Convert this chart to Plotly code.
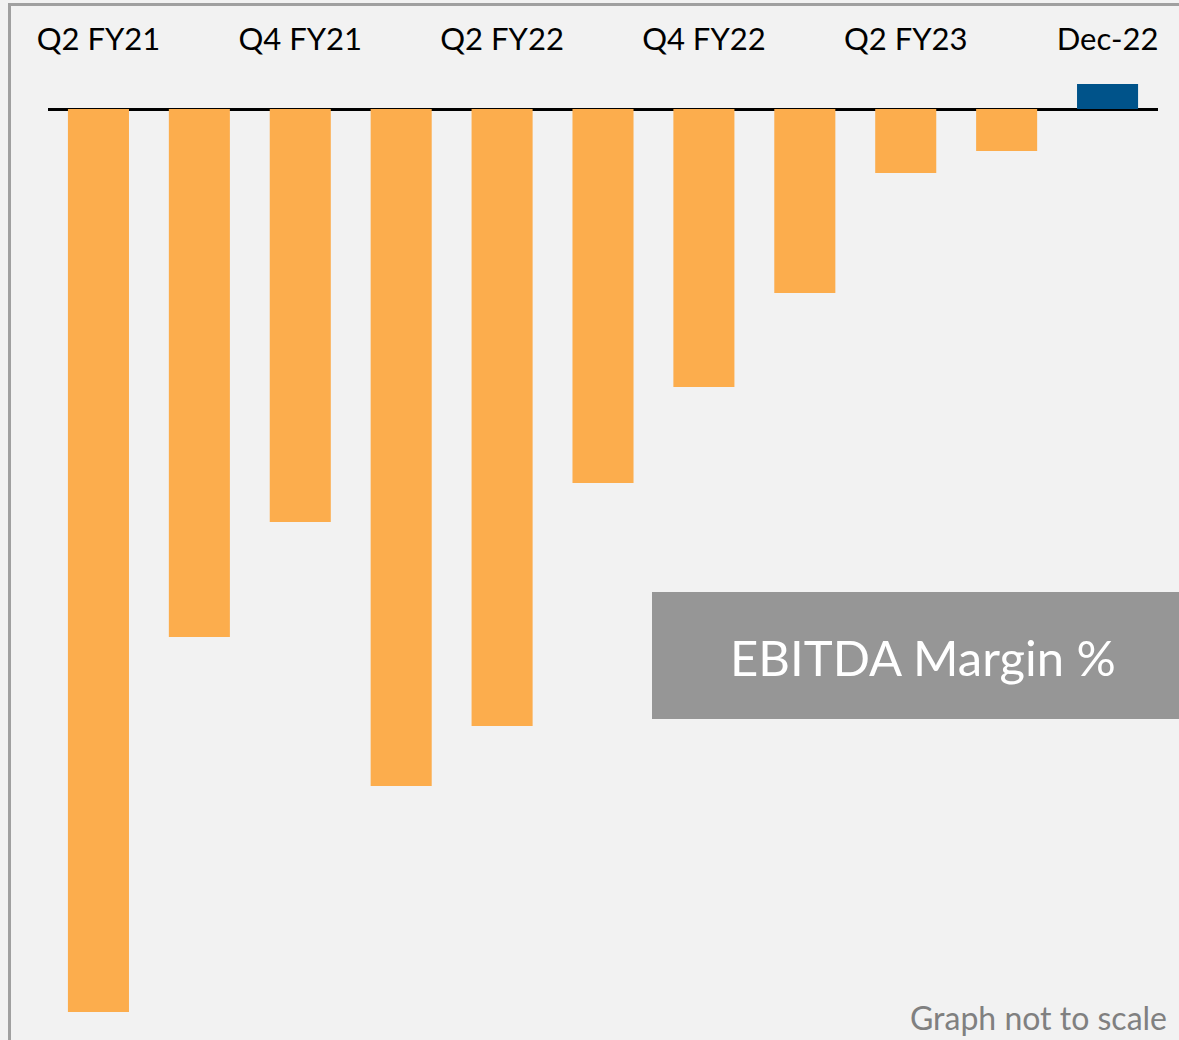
import plotly.graph_objects as go

# Quarterly EBITDA margin (relative magnitudes; chart is not to scale)
categories = ["Q2 FY21", "Q3 FY21", "Q4 FY21", "Q1 FY22", "Q2 FY22", "Q3 FY22",
              "Q4 FY22", "Q1 FY23", "Q2 FY23", "Q3 FY23", "Dec-22"]
margin_values = [-903, -528, -413, -677, -617, -374, -278, -184, -64, -42, 25]
tick_labels = ["Q2 FY21", "Q4 FY21", "Q2 FY22", "Q4 FY22", "Q2 FY23", "Dec-22"]

ORANGE = "#fcad4d"
BLUE = "#00538a"
bar_colors = [BLUE if v > 0 else ORANGE for v in margin_values]

FONT = "Lato, 'Open Sans', sans-serif"

fig = go.Figure(
    go.Bar(
        x=categories,
        y=margin_values,
        marker=dict(color=bar_colors, line=dict(width=0)),
        width=0.605,
        hoverinfo="skip",
    )
)

W, H = 1179, 1040
ML, MR, MT, MB = 48, 21, 70, 0
plot_w = W - ML - MR
plot_h = H - MT - MB


def px_x(x):
    return (x - ML) / plot_w


def px_y(y):
    return 1 - (y - MT) / plot_h


fig.update_layout(
    width=W,
    height=H,
    margin=dict(l=ML, r=MR, t=MT, b=MB),
    paper_bgcolor="#f2f2f2",
    plot_bgcolor="#f2f2f2",
    showlegend=False,
    font=dict(family=FONT, color="#000000"),
    xaxis=dict(
        side="top",
        type="category",
        range=[-0.5, 10.5],
        tickvals=tick_labels,
        ticktext=tick_labels,
        tickfont=dict(size=31, color="#000000", family=FONT),
        showgrid=False,
        showline=False,
        ticks="",
        ticklabelstandoff=13,
    ),
    yaxis=dict(
        range=[-931, 39],
        showticklabels=False,
        showgrid=False,
        showline=False,
        ticks="",
        zeroline=True,
        zerolinecolor="#000000",
        zerolinewidth=3,
    ),
    shapes=[
        # frame lines along the top and left edges
        dict(type="line", xref="paper", yref="paper",
             x0=px_x(9.5), x1=px_x(W + 5), y0=px_y(4.5), y1=px_y(4.5),
             line=dict(color="#a0a0a0", width=3)),
        dict(type="line", xref="paper", yref="paper",
             x0=px_x(9.5), x1=px_x(9.5), y0=px_y(3), y1=px_y(H + 5),
             line=dict(color="#a0a0a0", width=3)),
        # caption box
        dict(type="rect", xref="paper", yref="paper",
             x0=px_x(652), x1=px_x(W + 5), y0=px_y(719), y1=px_y(592),
             fillcolor="#969696", line=dict(width=0), layer="above"),
    ],
    annotations=[
        dict(text="EBITDA Margin %", xref="paper", yref="paper",
             x=px_x(923), y=px_y(657), xanchor="center", yanchor="middle",
             showarrow=False, font=dict(size=49, color="#ffffff", family=FONT)),
        dict(text="Graph not to scale", xref="paper", yref="paper",
             x=px_x(1169), y=px_y(1017), xanchor="right", yanchor="middle",
             showarrow=False, font=dict(size=32, color="#808080", family=FONT)),
    ],
)

fig.write_html("out.html")
